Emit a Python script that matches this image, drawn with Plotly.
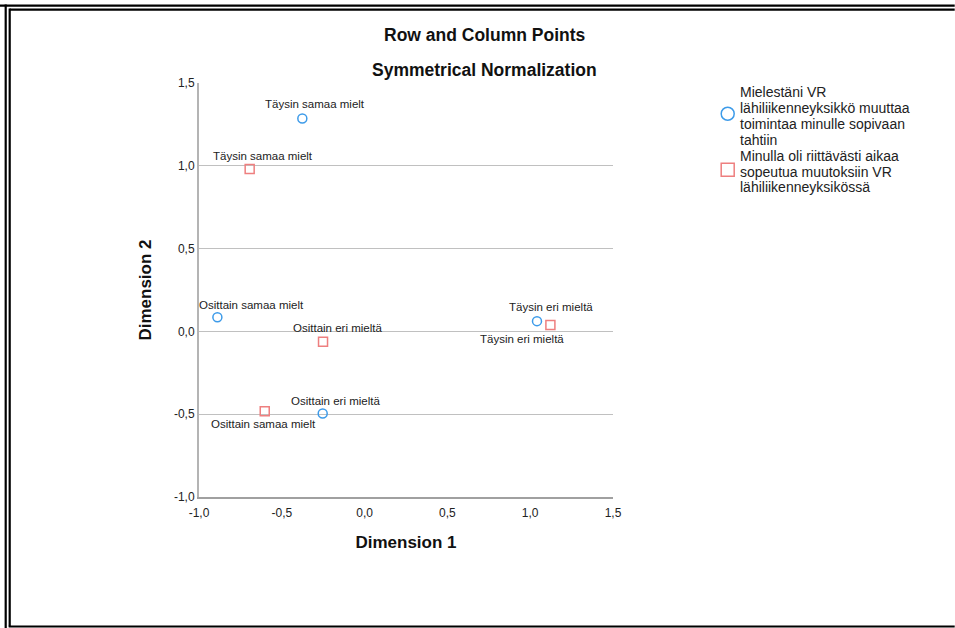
import plotly.graph_objects as go

# ---------------- data ----------------
series_names = [
    "Mielestäni VR<br>lähiliikenneyksikkö muuttaa<br>toimintaa minulle sopivaan<br>tahtiin",
    "Minulla oli riittävästi aikaa<br>sopeutua muutoksiin VR<br>lähiliikenneyksikössä",
]
blue_labels = ["Täysin samaa mielt", "Osittain samaa mielt", "Osittain eri mieltä", "Täysin eri mieltä"]
blue_dim1 = [-0.376, -0.889, -0.253, 1.041]
blue_dim2 = [1.286, 0.085, -0.496, 0.062]

red_labels = ["Täysin samaa mielt", "Osittain eri mieltä", "Osittain samaa mielt", "Täysin eri mieltä"]
red_dim1 = [-0.694, -0.251, -0.603, 1.122]
red_dim2 = [0.980, -0.063, -0.482, 0.038]

tick_vals = [-1.0, -0.5, 0.0, 0.5, 1.0, 1.5]
tick_text = ["-1,0", "-0,5", "0,0", "0,5", "1,0", "1,5"]

title_lines = ["Row and Column Points", "Symmetrical Normalization"]
x_title = "Dimension 1"
y_title = "Dimension 2"

# ---------------- styles ----------------
W, H = 955, 628
L, R, T, B = 199.3, 341.7, 83.3, 131.3
PW, PH = W - L - R, H - T - B
BLUE = "#3d9be9"
RED = "#ee7f7f"
FONT = "Liberation Sans, Arial, sans-serif"

def px(x):
    return (x - L) / PW

def py(y):
    return (H - B - y) / PH

# label pixel offsets (dx right, dy up)
blue_offsets = [(13, 14), (34, 12), (13, 13), (14, 14)]
red_offsets = [(13, 13), (14, 14), (-1, -13), (-28, -14)]

fig = go.Figure()
fig.add_trace(go.Scatter(
    x=blue_dim1, y=blue_dim2, mode="markers", name=series_names[0],
    marker=dict(symbol="circle-open", size=9, color=BLUE, line=dict(width=1.5, color=BLUE)),
    hovertext=blue_labels, hoverinfo="text+x+y",
))
fig.add_trace(go.Scatter(
    x=red_dim1, y=red_dim2, mode="markers", name=series_names[1],
    marker=dict(symbol="square-open", size=9, color=RED, line=dict(width=1.5, color=RED)),
    hovertext=red_labels, hoverinfo="text+x+y",
))

annotations = []
for lab, x, y, (dx, dy) in zip(blue_labels, blue_dim1, blue_dim2, blue_offsets):
    annotations.append(dict(x=x, y=y, xref="x", yref="y", text=lab, showarrow=False,
                            xshift=dx, yshift=dy, font=dict(size=11.5, color="#222", family=FONT)))
for lab, x, y, (dx, dy) in zip(red_labels, red_dim1, red_dim2, red_offsets):
    annotations.append(dict(x=x, y=y, xref="x", yref="y", text=lab, showarrow=False,
                            xshift=dx, yshift=dy, font=dict(size=11.5, color="#222", family=FONT)))

# titles
for txt, ypix in zip(title_lines, [35, 70]):
    annotations.append(dict(x=px(485), y=py(ypix), xref="paper", yref="paper", text="<b>%s</b>" % txt,
                            showarrow=False, xanchor="center", yanchor="middle",
                            font=dict(size=17.5, color="#111", family=FONT)))

# legend (manual, to match tight line spacing)
legend_lines = [s.split("<br>") for s in series_names]
legend_y = [[92.5, 108.3, 124.1, 139.9], [156.0, 171.8, 187.6]]
for lines, ys in zip(legend_lines, legend_y):
    for ln, yy in zip(lines, ys):
        annotations.append(dict(x=px(738), y=py(yy), xref="paper", yref="paper", text=ln,
                                showarrow=False, xanchor="left", yanchor="middle",
                                font=dict(size=14, color="#222", family=FONT)))

shapes = []
# legend symbols
shapes.append(dict(type="circle", xref="paper", yref="paper",
                   x0=px(721.5), x1=px(734.5), y0=py(107.5), y1=py(120.5),
                   line=dict(color=BLUE, width=1.5)))
shapes.append(dict(type="rect", xref="paper", yref="paper",
                   x0=px(721.5), x1=px(734.5), y0=py(163.5), y1=py(176.5),
                   line=dict(color=RED, width=1.5)))
# double frame
frame = [
    (0, 6, W, 6), (6, 5, 6, H),
    (10, 10, W, 10), (10, 9, 10, 626), (9, 626, W, 626),
]
for x0, y0, x1, y1 in frame:
    shapes.append(dict(type="line", xref="paper", yref="paper", x0=px(x0), x1=px(x1),
                       y0=py(y0), y1=py(y1), line=dict(color="#000", width=2.2), layer="above"))

fig.update_layout(
    width=W, height=H, autosize=False,
    margin=dict(l=L, r=R, t=T, b=B, pad=0),
    paper_bgcolor="white", plot_bgcolor="white",
    showlegend=False,
    separators=",.",
    font=dict(family=FONT, color="#222"),
    annotations=annotations, shapes=shapes,
    xaxis=dict(range=[-1, 1.5], tickvals=tick_vals, ticktext=tick_text, showgrid=False,
               zeroline=False, showline=True, linecolor="#a0a0a0", linewidth=2, ticks="",
               tickfont=dict(size=12, color="#222"), ticklabelstandoff=4,
               title=dict(text="<b>%s</b>" % x_title, font=dict(size=17, color="#111"), standoff=17),
               automargin=False),
    yaxis=dict(range=[-1, 1.5], tickvals=tick_vals, ticktext=tick_text, showgrid=True,
               gridcolor="#c0c0c0", gridwidth=1.3, zeroline=False, showline=True,
               linecolor="#b4b4b4", linewidth=2, ticks="",
               tickfont=dict(size=12, color="#222"),
               title=dict(text="<b>%s</b>" % y_title, font=dict(size=17, color="#111"), standoff=18),
               automargin=False),
)

fig.write_html("out.html", config={"displayModeBar": False})
